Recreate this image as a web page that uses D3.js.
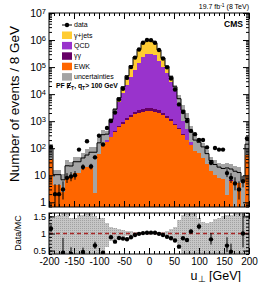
<!DOCTYPE html>
<html><head><meta charset="utf-8">
<script src="https://cdn.jsdelivr.net/npm/d3@7"></script>
<style>
body{margin:0;background:#fff}
svg{display:block;font-family:"Liberation Sans",Arial,Helvetica,sans-serif}
</style>
</head><body>
<script>
// ---------------- data ----------------
const binCenters = [-196,-188,-180,-172,-164,-156,-148,-140,-132,-124,-116,-108,-100,-92,-84,-76,-68,-60,-52,-44,-36,-28,-20,-12,-4,4,12,20,28,36,44,52,60,68,76,84,92,100,108,116,124,132,140,148,156,164,172,180,188,196];
const binWidth = 8;
const dataCounts = [112,2,2,3,8,9,10,89,20,182,21,46,290,138,560,1020,2100,6300,15850,39800,100000,224000,447000,794000,1000000,990000,794000,427000,209000,97700,38000,14800,4170,2190,1020,437,331,200,200,107,29,102,89,89,12,8,5,3,6,229];
const ewk   = [79,6.3,6.3,5.2,8.9,11.2,15.8,20,28.2,27,20,12.6,112,129,170,263,398,617,813,1120,1450,1780,2090,2240,2340,2340,2240,2000,1660,1320,1000,708,501,316,200,126,89,66,52,40,26.3,20,14.1,10,7.1,6.3,4,5.6,3.5,126];
const gamgam= [1,0.3,0.3,0.2,0.4,0.4,0.5,0.5,0.6,0.7,0.8,0.9,1,2,3,8,20,45,90,160,260,380,520,680,800,800,680,520,380,260,160,90,45,20,8,4,2,1.5,1,0.8,0.6,0.5,0.4,0.4,0.3,0.3,0.2,0.2,0.1,0.5];
const qcd   = [8,2.9,2.7,0.8,10.9,8.2,12.3,8.1,10.8,22.3,43.2,50.5,29,125,108,705,1790,4410,10270,20260,40930,77540,142000,240500,299800,306000,268800,170100,96420,56960,27100,12980,4730,1700,824,220,79,73.5,42,13.2,4.1,2,3,4.9,9.2,8.4,8.4,5.3,1.6,7.5];
const gjets = [10,1,1.2,0.6,2.2,2.2,3,3,4,6,7,7,16,60,50,172,551,2170,7450,26320,69560,154700,307300,541800,674300,656900,504500,258900,120300,49860,15900,4840,1490,508,227,62,30,25,17,9,4,2.5,2.5,2.5,2,2,1.5,1.5,0.8,7];
const uncUp   = [0.5,0.5,0.55,0.62,0.6,0.46,0.45,0.55,0.55,0.62,0.6,0.5,0.46,0.45,0.3,0.18,0.15,0.12,0.1,0.08,0.06,0.04,0.03,0.02,0.015,0.015,0.02,0.03,0.05,0.07,0.12,0.2,0.4,0.55,0.6,0.62,0.62,0.45,0.35,0.32,0.35,0.42,0.45,0.5,0.55,0.55,0.6,0.6,0.58,0.55];
const uncDown = [0.6,0.6,0.6,0.65,0.6,0.6,0.6,0.6,0.6,0.65,0.65,0.97,0.6,0.6,0.4,0.22,0.18,0.14,0.11,0.08,0.06,0.04,0.03,0.02,0.015,0.015,0.02,0.03,0.05,0.07,0.13,0.2,0.45,0.6,0.6,0.6,0.6,0.6,0.6,0.6,0.6,0.6,0.6,0.6,0.9,0.6,0.97,0.6,0.95,0.6];
const logTicks = [1,10,1e2,1e3,1e4,1e5,1e6,1e7];
const xTicks = [-200,-150,-100,-50,0,50,100,150,200];
const ratioTicks = [0.5,1,1.5];
const legendLabels = ["data","\u03b3+jets","QCD","\u03b3\u03b3","EWK","uncertainties"];
const colors = {gjets:"#ffcc33", qcd:"#9933cc", gg:"#660066", ewk:"#ff6600", unc:"#a4a4a4"};

// ---------------- layout ----------------
const X0=49, X1=249, MT=13, MB=207, RT=213, RB=254;
const svg = d3.select("body").append("svg").attr("width",266).attr("height",282);
const defs = svg.append("defs");
defs.append("clipPath").attr("id","cm").append("rect").attr("x",X0).attr("y",MT).attr("width",X1-X0).attr("height",MB-MT);
defs.append("clipPath").attr("id","cr").append("rect").attr("x",X0).attr("y",RT).attr("width",X1-X0).attr("height",RB-RT);
const pat = defs.append("pattern").attr("id","hatch").attr("patternUnits","userSpaceOnUse").attr("width",2).attr("height",2);
pat.append("rect").attr("width",2).attr("height",2).attr("fill","#c6c6c6");
pat.append("rect").attr("width",1).attr("height",1).attr("fill","#a2a2a2");

const x = d3.scaleLinear().domain([-200,200]).range([X0,X1]);
const yMin = 0.67;
const y = d3.scaleLog().domain([yMin,1e7]).range([MB,MT]).clamp(true);
const yr = d3.scaleLinear().domain([0.4,1.6]).range([RB,RT]);

const rows = binCenters.map((c,i)=>({c, ewk:ewk[i], gg:gamgam[i], qcd:qcd[i], gjets:gjets[i]}));
const total = rows.map(r=>r.ewk+r.gg+r.qcd+r.gjets);
const stacked = d3.stack().keys(["ewk","gg","qcd","gjets"])(rows);

// ---------------- main panel ----------------
const gm = svg.append("g").attr("clip-path","url(#cm)");
stacked.forEach(layer=>{
  gm.append("g").selectAll("rect").data(layer).join("rect")
    .attr("x",d=>x(d.data.c-binWidth/2))
    .attr("width",d=>x(d.data.c+binWidth/2)-x(d.data.c-binWidth/2))
    .attr("y",d=>y(Math.max(d[1],yMin)))
    .attr("height",d=>y(Math.max(d[0],yMin))-y(Math.max(d[1],yMin)))
    .attr("fill",colors[layer.key]).attr("shape-rendering","crispEdges");
});
// uncertainty band
gm.append("g").selectAll("rect").data(binCenters).join("rect")
  .attr("x",(c)=>x(c-binWidth/2)).attr("width",c=>x(c+binWidth/2)-x(c-binWidth/2))
  .attr("y",(c,i)=>y(total[i]*(1+uncUp[i])))
  .attr("height",(c,i)=>y(Math.max(total[i]*(1-uncDown[i]),yMin))-y(total[i]*(1+uncUp[i])))
  .attr("fill",colors.unc).attr("shape-rendering","crispEdges");
// total MC outline
const stepPts = binCenters.flatMap((c,i)=>[[c-binWidth/2,total[i]],[c+binWidth/2,total[i]]]);
gm.append("path").datum(stepPts).attr("fill","none").attr("stroke","#000").attr("stroke-width",1)
  .attr("d",d3.line().x(d=>x(d[0])).y(d=>y(d[1])));
// data
const errHi = n=>1+Math.sqrt(n+0.75);
const errLo = n=>Math.sqrt(n);
gm.append("g").selectAll("line").data(dataCounts).join("line")
  .attr("x1",(n,i)=>x(binCenters[i])).attr("x2",(n,i)=>x(binCenters[i]))
  .attr("y1",n=>y(n+errHi(n))).attr("y2",n=>y(Math.max(n-errLo(n),yMin)))
  .attr("stroke","#000").attr("stroke-width",1);
gm.append("g").selectAll("circle").data(dataCounts).join("circle")
  .attr("cx",(n,i)=>x(binCenters[i])).attr("cy",n=>y(n)).attr("r",2.2).attr("fill","#000");

// ---------------- ratio panel ----------------
const gr = svg.append("g").attr("clip-path","url(#cr)");
gr.append("g").selectAll("rect").data(binCenters).join("rect")
  .attr("x",c=>x(c-binWidth/2)).attr("width",c=>x(c+binWidth/2)-x(c-binWidth/2))
  .attr("y",(c,i)=>yr(1+uncUp[i]))
  .attr("height",(c,i)=>yr(1-uncDown[i])-yr(1+uncUp[i]))
  .attr("fill","url(#hatch)").attr("shape-rendering","crispEdges");
gr.append("line").attr("x1",X0).attr("x2",X1).attr("y1",yr(1)).attr("y2",yr(1))
  .attr("stroke","#a82828").attr("stroke-width",1.6).attr("stroke-dasharray","4,3");
const ratio = dataCounts.map((n,i)=>({c:binCenters[i], r:n/total[i], hi:errHi(n)/total[i], lo:errLo(n)/total[i]}));
const shown = ratio.filter(d=>d.r>=0.38 && d.r<=1.62);
gr.append("g").selectAll("line").data(shown).join("line")
  .attr("x1",d=>x(d.c)).attr("x2",d=>x(d.c))
  .attr("y1",d=>yr(d.r+d.hi)).attr("y2",d=>yr(d.r-d.lo))
  .attr("stroke","#000").attr("stroke-width",1);
gr.append("g").selectAll("circle").data(shown).join("circle")
  .attr("cx",d=>x(d.c)).attr("cy",d=>yr(d.r)).attr("r",2.2).attr("fill","#000");

// ---------------- axes ----------------
function clean(g){ g.select(".domain").remove(); g.selectAll("line").attr("stroke","#000"); g.attr("font-family",null); }
const minorLog = [];
logTicks.slice(0,-1).forEach(d=>{for(let k=2;k<=9;k++) minorLog.push(d*k);});
[0.7,0.8,0.9].forEach(v=>minorLog.push(v));
const xMinor = d3.range(-200,201,10);
const rMinor = d3.range(0.4,1.61,0.1);

// main y left
const gyl = svg.append("g").attr("transform",`translate(${X0},0)`)
  .call(d3.axisLeft(y).tickValues(logTicks).tickSize(-6).tickPadding(3)).call(clean);
gyl.selectAll(".tick text").attr("font-size","10.5px").each(function(d){
  const t=d3.select(this); const e=Math.round(Math.log10(d)); t.text(null);
  if(e===0) t.text("1"); else if(e===1) t.text("10");
  else { t.append("tspan").text("10"); t.append("tspan").attr("dy","-0.45em").attr("font-size","7.5px").text(e); }
});
svg.append("g").attr("transform",`translate(${X0},0)`).call(d3.axisLeft(y).tickValues(minorLog).tickSize(-3).tickFormat("")).call(clean);
svg.append("g").attr("transform",`translate(${X1},0)`).call(d3.axisRight(y).tickValues(logTicks).tickSize(-6).tickFormat("")).call(clean);
svg.append("g").attr("transform",`translate(${X1},0)`).call(d3.axisRight(y).tickValues(minorLog).tickSize(-3).tickFormat("")).call(clean);
// x ticks top/bottom
[[MT,d3.axisTop],[MB,d3.axisBottom],[RT,d3.axisTop]].forEach(([yy,ax])=>{
  svg.append("g").attr("transform",`translate(0,${yy})`).call(ax(x).tickValues(xTicks).tickSize(-6).tickFormat("")).call(clean);
  svg.append("g").attr("transform",`translate(0,${yy})`).call(ax(x).tickValues(xMinor).tickSize(-3).tickFormat("")).call(clean);
});
const gxb = svg.append("g").attr("transform",`translate(0,${RB})`)
  .call(d3.axisBottom(x).tickValues(xTicks).tickSize(-6).tickPadding(4).tickFormat(d=>String(d))).call(clean);
gxb.selectAll(".tick text").attr("font-size","10px");
svg.append("g").attr("transform",`translate(0,${RB})`).call(d3.axisBottom(x).tickValues(xMinor).tickSize(-3).tickFormat("")).call(clean);
// ratio y
const gry = svg.append("g").attr("transform",`translate(${X0},0)`)
  .call(d3.axisLeft(yr).tickValues(ratioTicks).tickSize(-6).tickPadding(3).tickFormat(d=>String(d))).call(clean);
gry.selectAll(".tick text").attr("font-size","9px");
svg.append("g").attr("transform",`translate(${X0},0)`).call(d3.axisLeft(yr).tickValues(rMinor).tickSize(-3).tickFormat("")).call(clean);
svg.append("g").attr("transform",`translate(${X1},0)`).call(d3.axisRight(yr).tickValues(ratioTicks).tickSize(-6).tickFormat("")).call(clean);
svg.append("g").attr("transform",`translate(${X1},0)`).call(d3.axisRight(yr).tickValues(rMinor).tickSize(-3).tickFormat("")).call(clean);

// frames
svg.append("rect").attr("x",X0).attr("y",MT).attr("width",X1-X0).attr("height",MB-MT).attr("fill","none").attr("stroke","#000");
svg.append("rect").attr("x",X0).attr("y",RT).attr("width",X1-X0).attr("height",RB-RT).attr("fill","none").attr("stroke","#000");

// ---------------- titles ----------------
svg.append("text").attr("transform","translate(19,104) rotate(-90)").attr("text-anchor","middle")
  .attr("font-size","13.5px").text("Number of events / 8 GeV");
svg.append("text").attr("transform","translate(21,233) rotate(-90)").attr("text-anchor","middle")
  .attr("font-size","9px").text("Data/MC");
const xt = svg.append("text").attr("x",241).attr("y",279.5).attr("text-anchor","end").attr("font-size","12.5px");
xt.append("tspan").text("u");
xt.append("tspan").attr("dy",2).attr("font-size","9px").text("\u22a5");
xt.append("tspan").attr("dy",-2).text(" [GeV]");
const lumi = svg.append("text").attr("x",249).attr("y",9).attr("text-anchor","end").attr("font-size","7px");
lumi.append("tspan").text("19.7 fb");
lumi.append("tspan").attr("dy",-2.5).attr("font-size","5px").text("-1");
lumi.append("tspan").attr("dy",2.5).text(" (8 TeV)");
svg.append("text").attr("x",243).attr("y",27).attr("text-anchor","end").attr("font-size","8.5px")
  .attr("font-weight","bold").text("CMS");

// ---------------- legend ----------------
const LX=62;
const lg = svg.append("g").attr("font-size","7px");
lg.append("line").attr("x1",LX).attr("x2",LX+10).attr("y1",25).attr("y2",25).attr("stroke","#000");
lg.append("circle").attr("cx",LX+5).attr("cy",25).attr("r",2.2);
lg.append("text").attr("x",LX+12).attr("y",27.4).text(legendLabels[0]);
const boxCols=[colors.gjets,colors.qcd,colors.gg,colors.ewk,colors.unc];
boxCols.forEach((col,i)=>{
  const top=31.5+i*10.4;
  lg.append("rect").attr("x",LX).attr("y",top).attr("width",10).attr("height",7.5).attr("fill",col);
  lg.append("text").attr("x",LX+12).attr("y",top+6).text(legendLabels[i+1]);
});
// PF MET label
const pf = svg.append("text").attr("x",56).attr("y",88).attr("font-size","6.8px").attr("font-weight","bold");
pf.append("tspan").text("PF E");
pf.append("tspan").attr("dy",1.5).attr("font-size","5px").text("T");
pf.append("tspan").attr("dy",-1.5).text(", q");
pf.append("tspan").attr("dy",1.5).attr("font-size","5px").text("T");
pf.append("tspan").attr("dy",-1.5).text("> 100 GeV");
const node = pf.node();
const ex0 = node.getStartPositionOfChar(3).x, ex1 = node.getEndPositionOfChar(3).x;
svg.append("line").attr("x1",ex0+0.8).attr("y1",88.6).attr("x2",ex1-0.3).attr("y2",82.2).attr("stroke","#000").attr("stroke-width",0.8);
</script>
</body></html>
